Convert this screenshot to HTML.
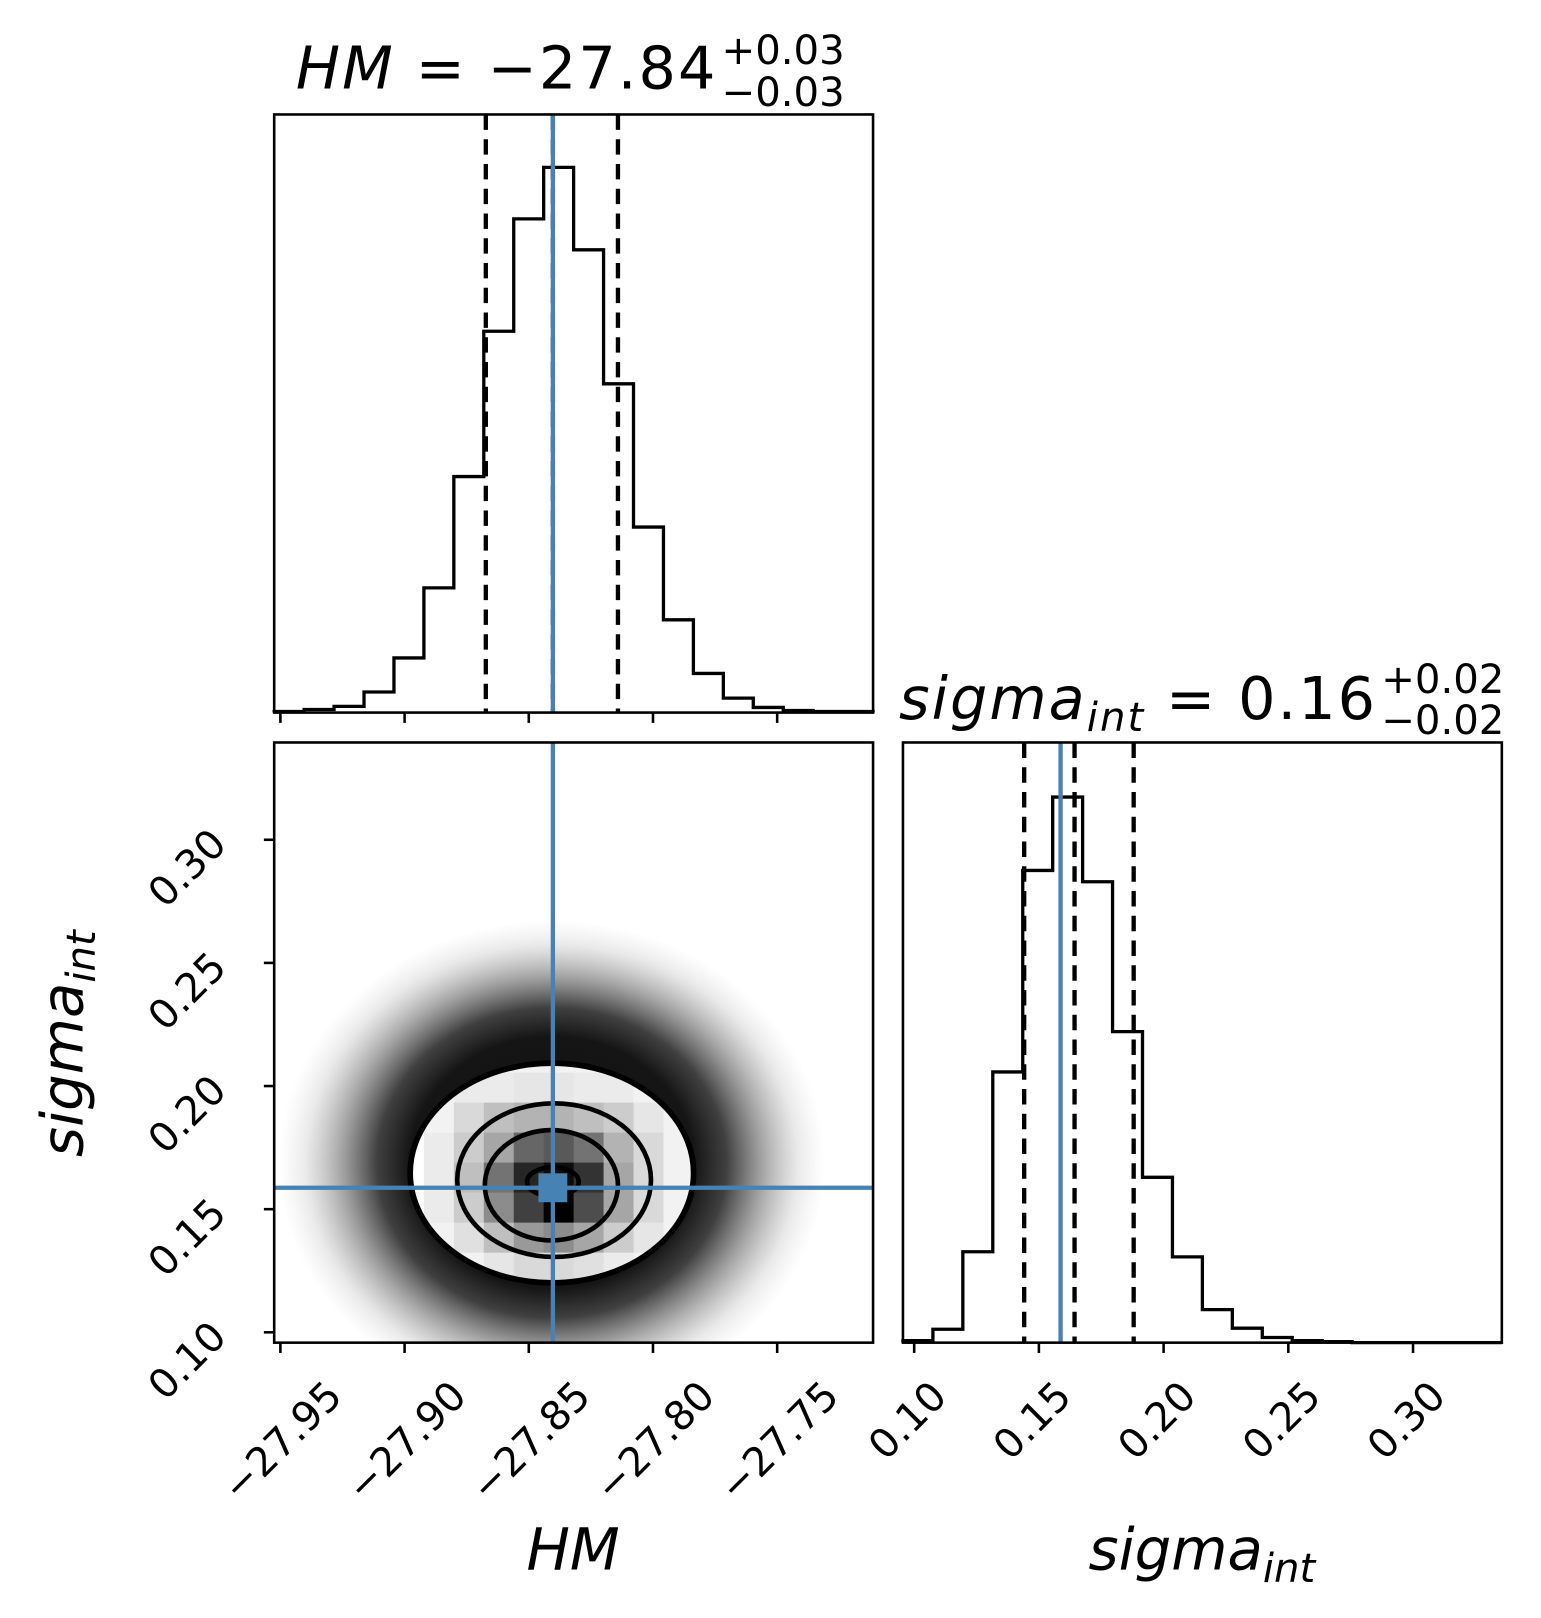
<!DOCTYPE html>
<html><head><meta charset="utf-8"><style>
html,body{margin:0;padding:0;background:#fff;}
svg{display:block;}
text{font-family:"DejaVu Sans","Liberation Sans",sans-serif;fill:#000;}
</style></head><body>
<svg id="fig" width="1541" height="1618" viewBox="0 0 1495 1569" preserveAspectRatio="none" xmlns="http://www.w3.org/2000/svg">
<defs>
<radialGradient id="cloudGrad" cx="50%" cy="50%" r="50%">
<stop offset="0" stop-color="#111"/>
<stop offset="0.52" stop-color="#151515"/>
<stop offset="0.64" stop-color="rgb(30,30,30)" stop-opacity="0.85"/>
<stop offset="0.76" stop-color="rgb(60,60,60)" stop-opacity="0.5"/>
<stop offset="0.9" stop-color="rgb(110,110,110)" stop-opacity="0.15"/>
<stop offset="1" stop-color="rgb(150,150,150)" stop-opacity="0"/>
</radialGradient>
</defs>
<g id="root"></g>
</svg>
<script>
// ---- data ----
const hmCounts = [1,3,6,20,53,121,229,370,479,529,449,319,180,90,38,14,5,2,1,1];
const sigCounts = [2,13,88,262,457,528,446,301,160,83,32,14,5,2,1,0,0,0,0,0];
const hmTicks = [-27.95,-27.90,-27.85,-27.80,-27.75];
const hmTickLabels = ["\u221227.95","\u221227.90","\u221227.85","\u221227.80","\u221227.75"];
const sigTicks = [0.10,0.15,0.20,0.25,0.30];
const sigTickLabels = ["0.10","0.15","0.20","0.25","0.30"];
const hmQuantiles = [-27.8673,-27.8403,-27.8141];
const sigQuantiles = [0.1441,0.1643,0.1880];
const truthHM = -27.8403;
const truthSig = 0.1587;
// contour ellipses (data units)
const contourCX = [-27.8407,-27.8398,-27.8409,-27.8403];
const contourCY = [0.1647,0.1618,0.1597,0.1611];
const contourRX = [0.05705,0.0390,0.0268,0.0104];
const contourRY = [0.0446,0.0312,0.0224,0.0059];
// 2D histogram density
const densCol0 = 5;
const densRowTop = 10;
const density = [
 [0.03,0.04,0.05,0.05,0.05,0.05,0.04,0.03,0.02],
 [0.05,0.08,0.08,0.10,0.10,0.08,0.08,0.05,0.03],
 [0.05,0.15,0.25,0.30,0.30,0.25,0.20,0.10,0.05],
 [0.08,0.20,0.35,0.60,0.65,0.55,0.30,0.15,0.05],
 [0.08,0.25,0.55,0.85,0.95,0.80,0.35,0.15,0.05],
 [0.08,0.20,0.45,0.75,1.00,0.70,0.35,0.15,0.05],
 [0.05,0.12,0.25,0.40,0.45,0.35,0.20,0.10,0.05],
 [0.03,0.05,0.10,0.15,0.15,0.12,0.08,0.05,0.03]
];
// ---- layout ----
const P1 = {x0:266,x1:847,y0:111,y1:691};
const P2 = {x0:266,x1:847,y0:720,y1:1302};
const P3 = {x0:876,x1:1457,y0:720,y1:1302};
const hmMin=-27.9525, hmMax=-27.7114;
const sigYMin=0.0958, sigYMax=0.3395;
const sigXMin=0.0955, sigXMax=0.3356;
const NB=20;
const hmX = v => P2.x0 + (v-hmMin)/(hmMax-hmMin)*(P2.x1-P2.x0);
const sigY = v => P2.y1 - (v-sigYMin)/(sigYMax-sigYMin)*(P2.y1-P2.y0);
const sigX = v => P3.x0 + (v-sigXMin)/(sigXMax-sigXMin)*(P3.x1-P3.x0);
const maxHM = Math.max(...hmCounts)*1.097;
const maxSig = Math.max(...sigCounts)*1.1;
const h1Y = c => P1.y1 - c/maxHM*(P1.y1-P1.y0);
const h3Y = c => P3.y1 - c/maxSig*(P3.y1-P3.y0);

const NS="http://www.w3.org/2000/svg";
const root=document.getElementById('root');
function mk(tag,attrs,parent){const e=document.createElementNS(NS,tag);for(const k in attrs)e.setAttribute(k,attrs[k]);(parent||root).appendChild(e);return e;}

// ---- top histogram ----
let g1=mk('g',{});


function stepPath(counts,xs,yf,base){let d='M'+xs(0)+','+base;for(let i=0;i<counts.length;i++){d+=' L'+xs(i)+','+yf(counts[i])+' L'+xs(i+1)+','+yf(counts[i]);}d+=' L'+xs(counts.length)+','+base;return d;}
const hmEdge = i => hmX(hmMin + i*(hmMax-hmMin)/NB);
let p=mk('path',{d:stepPath(hmCounts,hmEdge,h1Y,P1.y1),fill:'none',stroke:'#000','stroke-width':3.2},g1);


hmQuantiles.forEach((q,i)=>{let l=mk('line',{x1:hmX(q),x2:hmX(q),y1:P1.y0,y2:P1.y1,stroke:'#000','stroke-width':4.2,'stroke-dasharray':'15,9'},g1);

});
let t1=mk('line',{x1:hmX(truthHM),x2:hmX(truthHM),y1:P1.y0,y2:P1.y1,stroke:'#4682b4','stroke-width':4.2},g1);



// ---- 2D panel ----
let g2=mk('g',{});


const cp=mk('clipPath',{id:'clip2'},g2);
mk('rect',{x:P2.x0,y:P2.y0,width:P2.x1-P2.x0,height:P2.y1-P2.y0},cp);
let gc=mk('g',{'clip-path':'url(#clip2)'},g2);
let cloud=mk('ellipse',{cx:hmX(contourCX[0]),cy:sigY(contourCY[0])-10,rx:265,ry:235,fill:'url(#cloudGrad)'},gc);


const ocx=hmX(contourCX[0]), ocy=sigY(contourCY[0]);
const orx=contourRX[0]/(hmMax-hmMin)*(P2.x1-P2.x0), ory=contourRY[0]/(sigYMax-sigYMin)*(P2.y1-P2.y0);
const co=mk('clipPath',{id:'clipOuter'},g2);
mk('ellipse',{cx:ocx,cy:ocy,rx:orx,ry:ory},co);
mk('ellipse',{cx:ocx,cy:ocy,rx:orx,ry:ory,fill:'#fff'},gc);
let gcell=mk('g',{'clip-path':'url(#clipOuter)'},gc);
const bx=(P2.x1-P2.x0)/NB, by=(P2.y1-P2.y0)/NB;
density.forEach((row,r)=>row.forEach((v,c)=>{const g=Math.round(255*(1-v));
let rc=mk('rect',{x:P2.x0+(densCol0+c)*bx,y:P2.y1-(densRowTop-r)*by,width:bx+0.5,height:by+0.5,fill:`rgb(${g},${g},${g})`},gcell);

}));
contourCX.forEach((cx,i)=>{let e=mk('ellipse',{cx:hmX(cx),cy:sigY(contourCY[i]),rx:contourRX[i]/(hmMax-hmMin)*(P2.x1-P2.x0),ry:contourRY[i]/(sigYMax-sigYMin)*(P2.y1-P2.y0),fill:'none',stroke:'#000','stroke-width':i==0?5.5:4.5},gc);

});
let tv=mk('line',{x1:hmX(truthHM),x2:hmX(truthHM),y1:P2.y0,y2:P2.y1,stroke:'#4682b4','stroke-width':4.2},gc);


let th=mk('line',{x1:P2.x0,x2:P2.x1,y1:sigY(truthSig),y2:sigY(truthSig),stroke:'#4682b4','stroke-width':4.2},gc);


let tm=mk('rect',{x:hmX(truthHM)-14,y:sigY(truthSig)-14,width:28,height:28,fill:'#4682b4'},gc);



// ---- right histogram ----
let g3=mk('g',{});


const sigEdge = i => sigX(sigXMin + i*(sigXMax-sigXMin)/NB);
let p3=mk('path',{d:stepPath(sigCounts,sigEdge,h3Y,P3.y1),fill:'none',stroke:'#000','stroke-width':3.2},g3);


sigQuantiles.forEach(q=>{let l=mk('line',{x1:sigX(q),x2:sigX(q),y1:P3.y0,y2:P3.y1,stroke:'#000','stroke-width':4.2,'stroke-dasharray':'15,9'},g3);

});
let t3=mk('line',{x1:sigX(truthSig),x2:sigX(truthSig),y1:P3.y0,y2:P3.y1,stroke:'#4682b4','stroke-width':4.2},g3);



// ---- frames ----
[P1,P2,P3].forEach((P,i)=>{let f=mk('rect',{x:P.x0,y:P.y0,width:P.x1-P.x0,height:P.y1-P.y0,fill:'none',stroke:'#000','stroke-width':2.5});

});

// ---- ticks ----
hmTicks.forEach((v,i)=>{const x=hmX(v);
mk('line',{x1:x,x2:x,y1:P1.y1,y2:P1.y1+10,stroke:'#000','stroke-width':2.5});
mk('line',{x1:x,x2:x,y1:P2.y1,y2:P2.y1+10,stroke:'#000','stroke-width':2.5});
let t=mk('text',{x:x+2,y:1398,'font-size':39,'text-anchor':'middle','dominant-baseline':'central',transform:`rotate(-45 ${x+2} 1398)`});
t.textContent=hmTickLabels[i];

});
sigTicks.forEach((v,i)=>{const y=sigY(v);
mk('line',{x1:P2.x0-10,x2:P2.x0,y1:y,y2:y,stroke:'#000','stroke-width':2.5});
let t=mk('text',{x:182,y:y+28,'font-size':39,'text-anchor':'middle','dominant-baseline':'central',transform:`rotate(-45 182 ${y+28})`});
t.textContent=sigTickLabels[i];


const x=sigX(v);
mk('line',{x1:x,x2:x,y1:P3.y1,y2:P3.y1+10,stroke:'#000','stroke-width':2.5});
let t2=mk('text',{x:x-6,y:1378,'font-size':39,'text-anchor':'middle','dominant-baseline':'central',transform:`rotate(-45 ${x-6} 1378)`});
t2.textContent=sigTickLabels[i];

});
</script>
<svg style="position:absolute;left:0;top:0" width="1541" height="1618" viewBox="0 0 1495 1569" preserveAspectRatio="none" xmlns="http://www.w3.org/2000/svg">
<text x="696" y="86" font-size="57" letter-spacing="2" text-anchor="end" style="font-family:'DejaVu Sans',sans-serif"><tspan font-style="italic">HM</tspan> = −27.84</text>
<text x="700" y="62" font-size="39" style="font-family:'DejaVu Sans',sans-serif">+0.03</text>
<text x="700" y="103" font-size="39" style="font-family:'DejaVu Sans',sans-serif">−0.03</text>
<text x="1336" y="697" font-size="57" letter-spacing="2" text-anchor="end" style="font-family:'DejaVu Sans',sans-serif"><tspan font-style="italic">sigma</tspan><tspan font-style="italic" font-size="39" dy="12">int</tspan><tspan dy="-12"> = 0.16</tspan></text>
<text x="1340" y="672" font-size="39" style="font-family:'DejaVu Sans',sans-serif">+0.02</text>
<text x="1340" y="712" font-size="39" style="font-family:'DejaVu Sans',sans-serif">−0.02</text>
<text x="556" y="1522" font-size="56" font-style="italic" text-anchor="middle" style="font-family:'DejaVu Sans',sans-serif">HM</text>
<text x="1166" y="1522" font-size="56" text-anchor="middle" style="font-family:'DejaVu Sans',sans-serif"><tspan font-style="italic">sigma</tspan><tspan font-style="italic" font-size="39" dy="12">int</tspan></text>
<text x="0" y="0" font-size="56" text-anchor="middle" transform="translate(80 1012) rotate(-90)" style="font-family:'DejaVu Sans',sans-serif"><tspan font-style="italic">sigma</tspan><tspan font-style="italic" font-size="39" dy="12">int</tspan></text>
</svg>
</body></html>
